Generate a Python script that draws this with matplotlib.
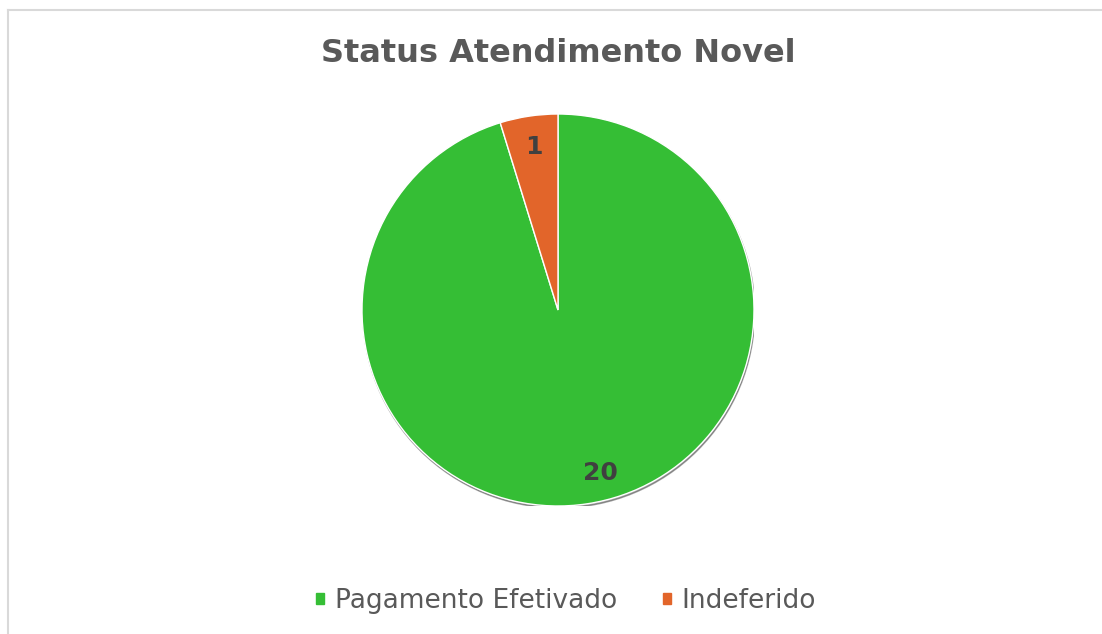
import matplotlib.pyplot as plt
import matplotlib.patches as mpatches
from matplotlib.lines import Line2D

# dados
categorias = ['Pagamento Efetivado', 'Indeferido']
valores = [20, 1]
cores = ['#35BE35', '#E2652A']
titulo = 'Status Atendimento Novel'

W, H = 1102, 634
fig = plt.figure(figsize=(W / 100, H / 100), dpi=100)
fig.patch.set_facecolor('white')

# moldura do gráfico (só esquerda e topo aparecem)
fig.add_artist(Line2D([8 / W, 8 / W], [0, 1 - 10 / H], color='#D9D9D9', lw=1.5))
fig.add_artist(Line2D([8 / W, 1], [1 - 10 / H, 1 - 10 / H], color='#D9D9D9', lw=1.5))

fig.text(558 / W, 1 - 53 / H, titulo, ha='center', va='center',
         fontsize=23, fontweight='bold', color='#595959', family='DejaVu Sans')

cx, cy, r = 558, 310, 196
ax = fig.add_axes([(cx - r) / W, (H - cy - r) / H, 2 * r / W, 2 * r / H])

# sombra leve por baixo
ax.add_patch(mpatches.Circle((0.004, -0.01), 1.0, color='#3a3a3a', alpha=0.45, zorder=0))

wedges, texts = ax.pie(valores, colors=cores, startangle=90, counterclock=False,
                       labels=[str(v) for v in valores], labeldistance=0.84,
                       wedgeprops=dict(edgecolor='white', linewidth=1))
for t in texts:
    t.set_fontsize(18)
    t.set_fontweight('bold')
    t.set_color('#404040')
    t.set_ha('center')
    t.set_va('center')
# o Excel empurra o rótulo grande um pouco para a direita
x0, y0 = texts[0].get_position()
texts[0].set_position((x0 + 0.09, y0))
ax.set_xlim(-1, 1)
ax.set_ylim(-1, 1)
ax.set_aspect('equal')
ax.axis('off')

handles = [mpatches.Patch(color=c, label=l) for c, l in zip(cores, categorias)]
leg = fig.legend(handles=handles, loc='center', bbox_to_anchor=(566 / W, 1 - 601 / H),
                 ncol=2, frameon=False, fontsize=19, handlelength=0.3, handleheight=0.3,
                 handletextpad=0.4, columnspacing=1.75)
for t in leg.get_texts():
    t.set_color('#595959')

fig.savefig('out.png', dpi=100)
